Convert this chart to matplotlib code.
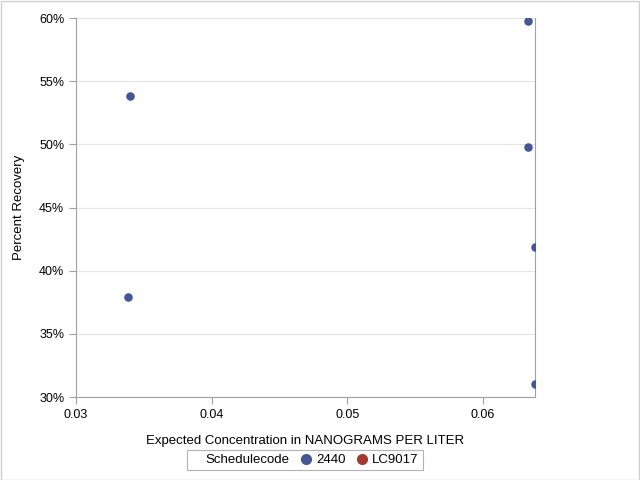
import matplotlib

matplotlib.use('Agg')
import matplotlib.pyplot as plt
from matplotlib.lines import Line2D
from matplotlib.patches import Rectangle
from matplotlib.ticker import FuncFormatter

plt.rcParams['font.family'] = ['Liberation Sans', 'DejaVu Sans']
plt.rcParams['font.size'] = 9

# data
conc = [0.0633, 0.0340, 0.0633, 0.0638, 0.0338, 0.0638]
recovery = [59.8, 53.8, 49.8, 41.9, 37.9, 31.0]
codes = ['2440', 'LC9017']
colors = ['#445694', '#A23A2E']
x_ticks = [0.03, 0.04, 0.05, 0.06]
y_ticks = [30, 35, 40, 45, 50, 55, 60]

fig = plt.figure(figsize=(6.4, 4.8), dpi=100)
ax = fig.add_axes([76 / 640, 83 / 480, 459 / 640, 379 / 480])

ax.scatter(conc, recovery, s=38, color=colors[0], zorder=3, linewidths=0)

ax.set_xlim(0.03, 0.06383)
ax.set_ylim(30, 60)
ax.set_xticks(x_ticks)
ax.set_yticks(y_ticks)
ax.xaxis.set_major_formatter(FuncFormatter(lambda v, p: f'{v:.2f}'))
ax.yaxis.set_major_formatter(FuncFormatter(lambda v, p: f'{v:.0f}%'))
ax.yaxis.grid(True, color='#E4E4E4', linewidth=0.8)
ax.set_axisbelow(True)

for side in ['left', 'bottom', 'right']:
    ax.spines[side].set_color('#A0A0A0')
ax.spines['top'].set_visible(False)
ax.tick_params(colors='#A0A0A0', labelcolor='black', length=5, labelsize=9)

ax.set_xlabel('Expected Concentration in NANOGRAMS PER LITER', fontsize=9.5,
              labelpad=10)
ax.set_ylabel('Percent Recovery', fontsize=9.5, labelpad=10)

handles = [Rectangle((0, 0), 1, 1, alpha=0)]
handles += [Line2D([], [], ls='none', marker='o', markersize=7,
                   markerfacecolor=c, markeredgecolor=c) for c in colors]
leg = fig.legend(handles, ['Schedulecode'] + codes, ncol=3,
                 loc='center', bbox_to_anchor=(305 / 640, 1 - 460 / 480),
                 frameon=True, fancybox=False, fontsize=9.5,
                 handlelength=0.6, handletextpad=0.5, columnspacing=0.9,
                 borderpad=0.3, borderaxespad=0, edgecolor='#A0A0A0')
leg.get_frame().set_linewidth(0.8)

fig.patches.append(Rectangle((0.001, 0.001), 0.997, 0.997,
                             transform=fig.transFigure, fill=False,
                             edgecolor='#D0D0D0', linewidth=1))

fig.savefig('out.png', dpi=100)
